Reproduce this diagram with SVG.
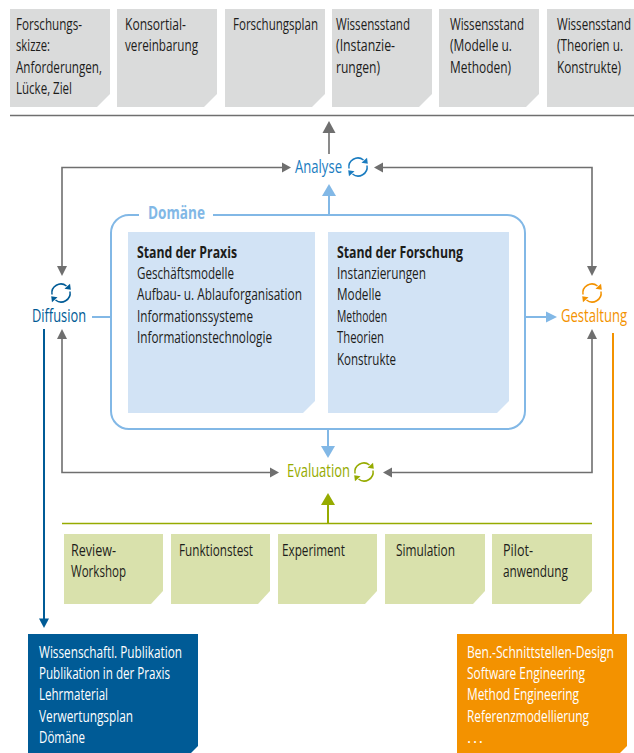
<svg xmlns="http://www.w3.org/2000/svg" width="634" height="753" viewBox="0 0 634 753">
<style>
text{font-family:"Open Sans","Noto Sans",Arial,sans-serif;font-size:16px;fill:#1d1d1b}
.w{fill:#fff}
.b{font-weight:700}
.gray{fill:#dadbdb}.lb{fill:#d2e3f5}.gr{fill:#d9e1ac}
.cg{fill:none;stroke:#6f6f6f;stroke-width:1.6}
.cb{fill:none;stroke:#82b8e6;stroke-width:2}
.hg{fill:#6f6f6f}.hb{fill:#82b8e6}
.ic{fill:none;stroke:currentColor;stroke-width:1.5}
.lab{font-size:18px}
</style>
<defs>
<g id="cyc">
<path class="ic" d="M-9 1.500A9 9 0 0 1 5.500 -7"/>
<path class="ic" d="M9 -1.500A9 9 0 0 1 -5.500 7"/>
<path fill="currentColor" d="M3.500 -4.300L9.800 -3.200L9 -9.200Z"/>
<path fill="currentColor" d="M-3.500 4.300L-9.800 3.200L-9 9.200Z"/>
</g>
</defs>
<g id="connectors">
<path class="cg" d="M329 154V130"/><path class="hg" d="M329 121L335.500 133H322.500Z"/>
<path class="cg" d="M62 268V167.500H284"/><path class="hg" d="M291 167.500L282 162.500V172.500Z"/><path class="hg" d="M62 276L57 266H67Z"/>
<path class="cg" d="M592 268V167.500H381"/><path class="hg" d="M374 167.500L383 162.500V172.500Z"/><path class="hg" d="M592 276L587 266H597Z"/>
<path class="cg" d="M62 338V472.500H272"/><path class="hg" d="M62 329L57 339H67Z"/><path class="hg" d="M279 472.500L270 467.500V477.500Z"/>
<path class="cg" d="M592 338V472.500H390"/><path class="hg" d="M592 329L587 339H597Z"/><path class="hg" d="M383 472.500L392 467.500V477.500Z"/>
<path class="cb" d="M329 214V194"/><path class="hb" d="M329 184L336 196H322Z"/>
<path class="cb" d="M328 429V447"/><path class="hb" d="M328 458L321 446H335Z"/>
<path class="cb" d="M525 317H548"/><path class="hb" d="M557 317L546 311.500V322.500Z"/>
<path class="cb" d="M92 317H111"/>
<path fill="none" stroke="#005b96" stroke-width="2" d="M44 329V620"/><path fill="#005b96" d="M44 628L39 618.500H49Z"/>
<path fill="none" stroke="#f39200" stroke-width="2" d="M613 333V635"/>
<path fill="none" stroke="#6f6f6f" stroke-width="1.500" d="M10 115.500H634"/>
<path fill="none" stroke="#96ab00" stroke-width="1.600" d="M62 523.500H592"/>
<path fill="none" stroke="#96ab00" stroke-width="2" d="M328 523V505"/><path fill="#96ab00" d="M328 493L335 505H321Z"/>
</g>
<g id="domaene">
<path class="cb" d="M139 215H129A18 18 0 0 0 111 233V411A18 18 0 0 0 129 429H507A18 18 0 0 0 525 411V233A18 18 0 0 0 507 215H213"/>
<text class="b lab" x="148" y="219" textLength="57" lengthAdjust="spacingAndGlyphs" style="fill:#82b8e6">Domäne</text>
</g>
<g id="praxis">
<path class="lb" d="M128 232H315V401L303 413H128Z"/>
<text class="b" x="137" y="258" textLength="100" lengthAdjust="spacingAndGlyphs">Stand der Praxis</text>
<text x="137" y="279" textLength="97" lengthAdjust="spacingAndGlyphs">Geschäftsmodelle</text>
<text x="137" y="300" textLength="165" lengthAdjust="spacingAndGlyphs">Aufbau- u. Ablauforganisation</text>
<text x="137" y="322" textLength="116" lengthAdjust="spacingAndGlyphs">Informationssysteme</text>
<text x="137" y="343" textLength="135" lengthAdjust="spacingAndGlyphs">Informationstechnologie</text>
</g>
<g id="forschung">
<path class="lb" d="M328 232H509V401L497 413H328Z"/>
<text class="b" x="337" y="258" textLength="126" lengthAdjust="spacingAndGlyphs">Stand der Forschung</text>
<text x="337" y="279" textLength="89" lengthAdjust="spacingAndGlyphs">Instanzierungen</text>
<text x="337" y="300" textLength="44" lengthAdjust="spacingAndGlyphs">Modelle</text>
<text x="337" y="322" textLength="50" lengthAdjust="spacingAndGlyphs">Methoden</text>
<text x="337" y="343" textLength="47" lengthAdjust="spacingAndGlyphs">Theorien</text>
<text x="337" y="365" textLength="59" lengthAdjust="spacingAndGlyphs">Konstrukte</text>
</g>
<g id="top1"><path class="gray" d="M10 9H110V94L97 107H10Z"/>
<text x="16" y="30" textLength="66" lengthAdjust="spacingAndGlyphs">Forschungs-</text>
<text x="16" y="51" textLength="34" lengthAdjust="spacingAndGlyphs">skizze:</text>
<text x="16" y="73" textLength="86" lengthAdjust="spacingAndGlyphs">Anforderungen,</text>
<text x="16" y="94" textLength="56" lengthAdjust="spacingAndGlyphs">Lücke, Ziel</text></g>
<g id="top2"><path class="gray" d="M117 9H217V94L204 107H117Z"/>
<text x="125" y="30" textLength="61" lengthAdjust="spacingAndGlyphs">Konsortial-</text>
<text x="125" y="51" textLength="73" lengthAdjust="spacingAndGlyphs">vereinbarung</text></g>
<g id="top3"><path class="gray" d="M225 9H325V94L312 107H225Z"/>
<text x="233" y="30" textLength="85" lengthAdjust="spacingAndGlyphs">Forschungsplan</text></g>
<g id="top4"><path class="gray" d="M332 9H432V94L419 107H332Z"/>
<text x="336" y="30" textLength="74" lengthAdjust="spacingAndGlyphs">Wissensstand</text>
<text x="336" y="51" textLength="59" lengthAdjust="spacingAndGlyphs">(Instanzie-</text>
<text x="336" y="73" textLength="44" lengthAdjust="spacingAndGlyphs">rungen)</text></g>
<g id="top5"><path class="gray" d="M439 9H539V94L526 107H439Z"/>
<text x="450" y="30" textLength="74" lengthAdjust="spacingAndGlyphs">Wissensstand</text>
<text x="450" y="51" textLength="62" lengthAdjust="spacingAndGlyphs">(Modelle u.</text>
<text x="450" y="73" textLength="61" lengthAdjust="spacingAndGlyphs">Methoden)</text></g>
<g id="top6"><path class="gray" d="M547 9H634V107H547Z"/>
<text x="557" y="30" textLength="74" lengthAdjust="spacingAndGlyphs">Wissensstand</text>
<text x="557" y="51" textLength="66" lengthAdjust="spacingAndGlyphs">(Theorien u.</text>
<text x="557" y="73" textLength="64" lengthAdjust="spacingAndGlyphs">Konstrukte)</text></g>
<g id="analyse" color="#1a7cc0">
<text class="lab" x="295" y="173" textLength="47" lengthAdjust="spacingAndGlyphs" style="fill:#1a7cc0">Analyse</text>
<use href="#cyc" x="358" y="167"/></g>
<g id="diffusion" color="#005b96">
<use href="#cyc" x="61" y="293"/>
<text class="lab" x="32" y="322" textLength="54" lengthAdjust="spacingAndGlyphs" style="fill:#005b96">Diffusion</text></g>
<g id="gestaltung" color="#f39200">
<use href="#cyc" x="592" y="293"/>
<text class="lab" x="561" y="322" textLength="66" lengthAdjust="spacingAndGlyphs" style="fill:#f39200">Gestaltung</text></g>
<g id="evaluation" color="#96ab00">
<text class="lab" x="287" y="477" textLength="63" lengthAdjust="spacingAndGlyphs" style="fill:#96ab00">Evaluation</text>
<use href="#cyc" x="364" y="472"/></g>
<g id="e1"><path class="gr" d="M64 534H163V591L151 604H64Z"/>
<text x="71" y="556" textLength="45" lengthAdjust="spacingAndGlyphs">Review-</text>
<text x="71" y="577" textLength="55" lengthAdjust="spacingAndGlyphs">Workshop</text></g>
<g id="e2"><path class="gr" d="M171 534H270V591L258 604H171Z"/>
<text x="179" y="556" textLength="74" lengthAdjust="spacingAndGlyphs">Funktionstest</text></g>
<g id="e3"><path class="gr" d="M278 534H377V591L365 604H278Z"/>
<text x="282" y="556" textLength="63" lengthAdjust="spacingAndGlyphs">Experiment</text></g>
<g id="e4"><path class="gr" d="M385 534H485V591L473 604H385Z"/>
<text x="396" y="556" textLength="59" lengthAdjust="spacingAndGlyphs">Simulation</text></g>
<g id="e5"><path class="gr" d="M492 534H592V591L580 604H492Z"/>
<text x="503" y="556" textLength="30" lengthAdjust="spacingAndGlyphs">Pilot-</text>
<text x="503" y="577" textLength="65" lengthAdjust="spacingAndGlyphs">anwendung</text></g>
<g id="diff-box"><path fill="#005b96" d="M28 634H198V746L191 753H28Z"/>
<text class="w" x="39" y="658" textLength="143" lengthAdjust="spacingAndGlyphs">Wissenschaftl. Publikation</text>
<text class="w" x="39" y="679" textLength="131" lengthAdjust="spacingAndGlyphs">Publikation in der Praxis</text>
<text class="w" x="39" y="700" textLength="69" lengthAdjust="spacingAndGlyphs">Lehrmaterial</text>
<text class="w" x="39" y="722" textLength="94" lengthAdjust="spacingAndGlyphs">Verwertungsplan</text>
<text class="w" x="39" y="743" textLength="46" lengthAdjust="spacingAndGlyphs">Dömäne</text></g>
<g id="gest-box"><path fill="#f39200" d="M457 634H627V746L620 753H457Z"/>
<text class="w" x="467" y="658" textLength="147" lengthAdjust="spacingAndGlyphs">Ben.-Schnittstellen-Design</text>
<text class="w" x="467" y="679" textLength="118" lengthAdjust="spacingAndGlyphs">Software Engineering</text>
<text class="w" x="467" y="700" textLength="112" lengthAdjust="spacingAndGlyphs">Method Engineering</text>
<text class="w" x="467" y="722" textLength="122" lengthAdjust="spacingAndGlyphs">Referenzmodellierung</text>
<text class="w" x="467" y="743" textLength="16" lengthAdjust="spacing">. . .</text></g>
</svg>
